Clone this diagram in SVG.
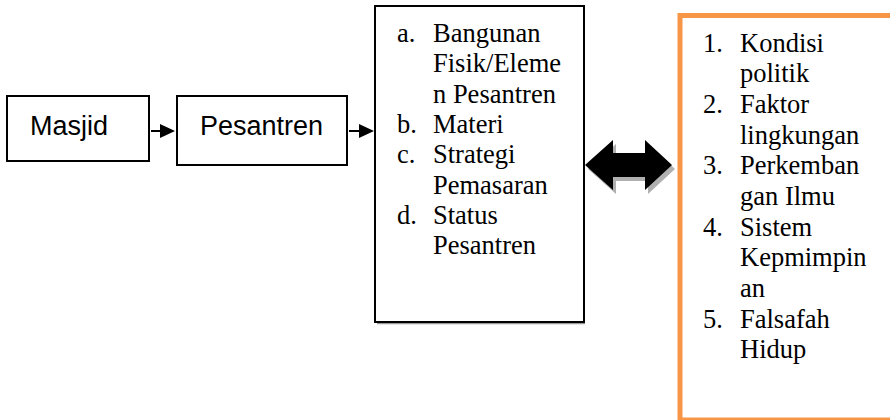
<svg xmlns="http://www.w3.org/2000/svg" width="890" height="420" viewBox="0 0 890 420">
<defs>
<style>
.box{fill:#fff;stroke:#000;stroke-width:2}
.sans{font-family:"Liberation Sans",Arial,sans-serif;font-size:27px;fill:#000}
.serif{font-family:"Liberation Serif","Times New Roman",serif;font-size:26.5px;fill:#000}
.conn{stroke:#000;stroke-width:2;fill:none}
.head{fill:#000}
</style>
</defs>
<rect width="890" height="420" fill="#fff"/>
<g id="masjid">
<rect class="box" x="7" y="96" width="142" height="65"/>
<text class="sans" x="30" y="135">Masjid</text>
</g>
<g id="pesantren">
<rect class="box" x="177" y="96" width="170" height="69"/>
<text class="sans" x="200" y="135">Pesantren</text>
</g>
<g id="elemen">
<line x1="377" y1="323.5" x2="585" y2="323.5" stroke="#999" stroke-width="1.5"/>
<rect class="box" x="375" y="6" width="209" height="316"/>
<g class="serif">
<text x="397" y="42">a.</text><text x="433" y="42">Bangunan</text>
<text x="433" y="72.3">Fisik/Eleme</text>
<text x="433" y="102.6">n Pesantren</text>
<text x="397" y="132.9">b.</text><text x="433" y="132.9">Materi</text>
<text x="397" y="163.2">c.</text><text x="433" y="163.2">Strategi</text>
<text x="433" y="193.5">Pemasaran</text>
<text x="397" y="223.8">d.</text><text x="433" y="223.8">Status</text>
<text x="433" y="254.1">Pesantren</text>
</g>
</g>
<g id="faktor">
<rect x="680" y="15.5" width="220" height="404.5" fill="#fff" stroke="#F79646" stroke-width="5"/>
<g class="serif">
<text x="703" y="51.7">1.</text><text x="740" y="51.7">Kondisi</text>
<text x="740" y="82.3">politik</text>
<text x="703" y="113">2.</text><text x="740" y="113">Faktor</text>
<text x="740" y="143.7">lingkungan</text>
<text x="703" y="174.3">3.</text><text x="740" y="174.3">Perkemban</text>
<text x="740" y="205">gan Ilmu</text>
<text x="703" y="235.7">4.</text><text x="740" y="235.7">Sistem</text>
<text x="740" y="266.3">Kepmimpin</text>
<text x="740" y="297">an</text>
<text x="703" y="327.7">5.</text><text x="740" y="327.7">Falsafah</text>
<text x="740" y="358.3">Hidup</text>
</g>
</g>
<g id="connectors">
<line class="conn" x1="151" y1="131" x2="162" y2="131"/>
<polygon class="head" points="160,124 175,131 160,138"/>
<line class="conn" x1="349" y1="131" x2="361" y2="131"/>
<polygon class="head" points="359,124 374,131 359,138"/>
<polygon points="588,169 616,144 616,157 648,157 648,144 675,169 648,194 648,181 616,181 616,194" fill="#b0b0b0"/>
<polygon points="585,165 613,140 613,153 645,153 645,140 672,165 645,190 645,177 613,177 613,190" fill="#000"/>
</g>
</svg>
